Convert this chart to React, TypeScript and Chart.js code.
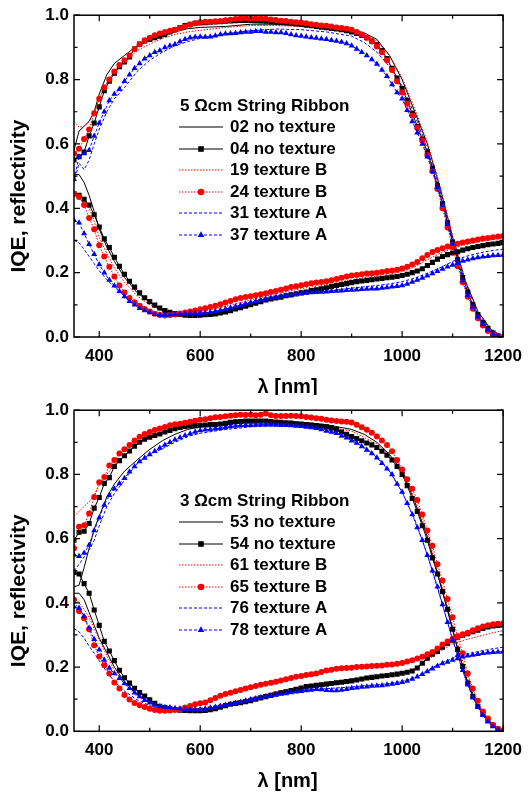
import React, { useEffect, useRef } from 'react';
import { Chart, registerables } from 'chart.js';
Chart.register(...registerables);

const FONT = '"Liberation Sans", Arial, Helvetica, sans-serif';

// wavelength grids (nm)
const WL_MARK = [
  350, 360, 370, 380, 390, 400, 410, 420, 430, 440,
  450, 460, 470, 480, 490, 500, 510, 520, 530, 540,
  550, 560, 570, 580, 590, 600, 610, 620, 630, 640,
  650, 660, 670, 680, 690, 700, 710, 720, 730, 740,
  750, 760, 770, 780, 790, 800, 810, 820, 830, 840,
  850, 860, 870, 880, 890, 900, 910, 920, 930, 940,
  950, 960, 970, 980, 990, 1000, 1010, 1020, 1030, 1040,
  1050, 1060, 1070, 1080, 1090, 1100, 1110, 1120, 1130, 1140,
  1150, 1160, 1170, 1180, 1190, 1200,
];
const WL_LINE = [
  350, 360, 370, 380, 390, 400, 415, 430, 450, 475,
  500, 525, 550, 575, 600, 650, 700, 750, 800, 850,
  900, 925, 950, 975, 1000, 1025, 1050, 1075, 1100, 1125,
  1150, 1175, 1200,
];

// ---------- top panel: 5 Ωcm ----------
const T02_IQE = [.58, .64, .655, .67, .70, .755, .815, .85, .875, .905, .92, .935, .948, .958, .962, .965, .972, .972, .968, .962, .955, .945, .925, .875, .80, .70, .60, .465, .31, .175, .08, .025, 0];
const T04_IQE = [
  .55, .56, .575, .625, .665, .715, .765, .795, .82, .84,
  .855, .87, .895, .91, .92, .925, .93, .935, .94, .948,
  .955, .962, .968, .972, .975, .976, .977, .978, .979, .98,
  .981, .982, .983, .984, .984, .984, .983, .982, .981, .98,
  .978, .977, .976, .975, .973, .971, .969, .967, .965, .963,
  .961, .959, .957, .955, .952, .948, .943, .937, .93, .92,
  .908, .89, .865, .835, .805, .772, .735, .695, .655, .615,
  .575, .525, .47, .415, .355, .295, .24, .185, .14, .10,
  .07, .045, .027, .012, .004, 0,
];
const T19_IQE = [.67, .652, .655, .67, .70, .74, .79, .825, .855, .89, .91, .928, .94, .948, .953, .962, .968, .968, .965, .96, .952, .94, .92, .875, .805, .71, .605, .47, .315, .175, .08, .025, 0];
const T24_IQE = [
  .57, .585, .615, .645, .695, .74, .775, .80, .825, .845,
  .86, .875, .895, .91, .922, .93, .938, .943, .948, .952,
  .955, .96, .965, .97, .975, .978, .98, .98, .981, .982,
  .984, .986, .988, .99, .991, .99, .99, .99, .989, .987,
  .985, .983, .982, .98, .978, .977, .975, .972, .97, .968,
  .967, .965, .962, .96, .958, .955, .948, .94, .93, .918,
  .903, .885, .86, .83, .795, .76, .725, .688, .65, .61,
  .565, .515, .46, .40, .34, .28, .22, .17, .125, .088,
  .058, .036, .019, .008, .002, 0,
];
const T31_IQE = [.48, .54, .52, .55, .60, .645, .70, .74, .775, .825, .86, .885, .905, .918, .928, .942, .952, .957, .955, .948, .935, .915, .885, .84, .78, .69, .585, .455, .305, .17, .075, .022, 0];
const T37_IQE = [
  .49, .56, .57, .58, .625, .665, .70, .735, .755, .77,
  .795, .815, .835, .85, .865, .875, .885, .89, .90, .905,
  .91, .918, .925, .93, .932, .933, .932, .933, .936, .94,
  .942, .943, .944, .946, .948, .948, .95, .95, .948, .948,
  .946, .946, .944, .94, .937, .935, .933, .931, .929, .927,
  .925, .922, .92, .917, .912, .905, .895, .885, .875, .862,
  .848, .83, .81, .785, .76, .74, .705, .67, .635, .60,
  .56, .515, .465, .41, .35, .29, .23, .175, .13, .093,
  .063, .04, .022, .009, .003, 0,
];
const T02_R = [.505, .505, .48, .44, .39, .335, .28, .235, .185, .138, .108, .082, .072, .068, .068, .076, .098, .12, .137, .152, .168, .175, .18, .185, .19, .202, .222, .245, .26, .27, .278, .285, .29];
const T04_R = [
  .445, .44, .428, .41, .38, .342, .305, .278, .248, .22,
  .195, .173, .155, .137, .122, .11, .099, .09, .082, .077,
  .073, .07, .068, .067, .067, .068, .069, .07, .072, .075,
  .078, .082, .087, .091, .096, .10, .105, .11, .115, .118,
  .121, .124, .128, .131, .134, .137, .14, .144, .147, .15,
  .153, .157, .16, .163, .166, .169, .172, .174, .176, .178,
  .18, .182, .184, .186, .188, .191, .195, .20, .205, .212,
  .222, .232, .242, .25, .256, .261, .265, .27, .274, .278,
  .281, .284, .287, .289, .291, .293,
];
const T19_R = [.445, .445, .43, .40, .36, .31, .26, .215, .17, .128, .10, .08, .073, .074, .078, .095, .115, .135, .15, .163, .178, .185, .19, .196, .203, .218, .24, .26, .275, .287, .295, .302, .307];
const T24_R = [
  .445, .435, .41, .37, .335, .285, .25, .218, .188, .16,
  .138, .121, .108, .097, .087, .079, .072, .068, .067, .068,
  .07, .073, .076, .079, .082, .086, .089, .093, .097, .102,
  .107, .112, .117, .121, .124, .127, .13, .133, .136, .14,
  .143, .147, .151, .155, .158, .161, .164, .167, .169, .171,
  .173, .176, .18, .184, .188, .191, .193, .195, .197, .198,
  .20, .202, .205, .207, .209, .213, .218, .225, .233, .245,
  .255, .264, .27, .276, .281, .286, .29, .294, .297, .30,
  .303, .306, .308, .31, .312, .314,
];
const T31_R = [.30, .293, .272, .25, .228, .206, .178, .155, .128, .103, .084, .07, .067, .068, .07, .082, .102, .12, .133, .142, .152, .156, .16, .165, .172, .183, .198, .215, .235, .25, .26, .268, .273];
const T37_R = [
  .363, .355, .322, .288, .257, .225, .20, .177, .159, .142,
  .126, .111, .10, .089, .082, .076, .071, .068, .068, .069,
  .07, .071, .072, .073, .073, .074, .075, .077, .08, .083,
  .087, .091, .095, .099, .103, .107, .111, .115, .118, .121,
  .124, .127, .129, .131, .133, .135, .137, .138, .139, .14,
  .141, .142, .143, .144, .145, .146, .147, .148, .149, .15,
  .15, .152, .154, .156, .158, .16, .165, .171, .177, .183,
  .19, .197, .204, .211, .218, .224, .23, .236, .24, .244,
  .247, .249, .251, .253, .254, .255,
];

// ---------- bottom panel: 3 Ωcm ----------
const B53_IQE = [.45, .455, .51, .57, .63, .67, .73, .77, .81, .845, .878, .905, .925, .94, .948, .958, .97, .966, .962, .955, .94, .925, .90, .862, .81, .715, .605, .465, .315, .175, .078, .025, 0];
const B54_IQE = [
  .595, .62, .623, .647, .695, .728, .772, .79, .825, .843,
  .858, .873, .888, .90, .91, .916, .921, .926, .932, .937,
  .942, .946, .949, .951, .952, .953, .954, .955, .955, .957,
  .959, .962, .964, .965, .966, .966, .966, .966, .966, .965,
  .963, .962, .961, .96, .958, .957, .955, .954, .952, .95,
  .948, .945, .94, .932, .925, .918, .912, .905, .898, .892,
  .884, .872, .86, .845, .825, .80, .765, .725, .685, .64,
  .595, .54, .49, .435, .38, .318, .255, .202, .15, .108,
  .077, .054, .034, .019, .006, .001,
];
const B61_IQE = [.67, .685, .70, .715, .735, .765, .80, .83, .858, .895, .918, .93, .94, .948, .952, .957, .962, .962, .958, .95, .935, .915, .895, .86, .81, .725, .615, .475, .33, .19, .085, .028, 0];
const B65_IQE = [
  .57, .637, .642, .678, .73, .776, .792, .828, .845, .865,
  .878, .892, .906, .917, .926, .932, .938, .943, .948, .953,
  .956, .958, .961, .964, .967, .97, .972, .975, .978, .979,
  .981, .983, .984, .986, .985, .986, .984, .986, .99, .984,
  .982, .982, .982, .983, .982, .981, .979, .977, .975, .973,
  .97, .968, .966, .965, .964, .962, .955, .947, .939, .93,
  .918, .906, .892, .872, .845, .815, .785, .755, .72, .675,
  .625, .578, .52, .47, .412, .355, .295, .243, .18, .133,
  .095, .062, .04, .02, .008, .002,
];
const B76_IQE = [.50, .52, .543, .565, .595, .64, .70, .74, .782, .835, .862, .88, .90, .918, .928, .94, .948, .952, .95, .94, .91, .885, .855, .81, .745, .66, .55, .42, .285, .165, .075, .022, 0];
const B78_IQE = [
  .55, .545, .555, .58, .625, .665, .705, .735, .755, .772,
  .788, .808, .825, .84, .851, .862, .872, .882, .892, .90,
  .908, .915, .921, .927, .932, .937, .939, .94, .942, .944,
  .946, .949, .951, .952, .953, .953, .954, .955, .955, .955,
  .954, .953, .953, .952, .951, .95, .948, .946, .944, .94,
  .935, .932, .928, .92, .914, .905, .898, .887, .876, .865,
  .852, .835, .818, .80, .77, .745, .71, .675, .635, .595,
  .548, .50, .45, .395, .34, .285, .237, .19, .145, .105,
  .075, .05, .03, .015, .005, 0,
];
const B53_R = [.43, .43, .41, .37, .33, .29, .245, .20, .155, .115, .09, .074, .068, .065, .064, .078, .095, .115, .133, .147, .157, .163, .169, .175, .18, .192, .228, .255, .283, .302, .315, .325, .33];
const B54_R = [
  .495, .49, .46, .43, .378, .33, .28, .25, .22, .19,
  .167, .15, .134, .121, .11, .098, .087, .078, .074, .071,
  .068, .066, .065, .064, .064, .064, .065, .067, .07, .075,
  .08, .084, .087, .089, .092, .095, .10, .104, .108, .112,
  .116, .12, .123, .127, .131, .135, .139, .141, .143, .145,
  .147, .149, .151, .153, .155, .157, .16, .163, .166, .168,
  .17, .172, .174, .176, .178, .181, .184, .188, .197, .212,
  .228, .24, .249, .262, .274, .284, .293, .299, .304, .31,
  .315, .32, .325, .328, .33, .331,
];
const B61_R = [.42, .40, .38, .355, .32, .285, .235, .19, .148, .108, .088, .075, .07, .07, .072, .085, .104, .123, .14, .153, .163, .168, .172, .177, .183, .196, .222, .248, .272, .285, .295, .305, .314];
const B65_R = [
  .41, .375, .352, .318, .268, .233, .206, .18, .152, .133,
  .113, .099, .088, .081, .076, .07, .066, .064, .064, .065,
  .066, .069, .074, .079, .084, .087, .09, .097, .104, .111,
  .116, .12, .125, .129, .133, .137, .141, .145, .148, .151,
  .154, .158, .162, .166, .17, .172, .175, .178, .18, .185,
  .189, .192, .195, .196, .197, .198, .20, .201, .202, .203,
  .204, .205, .207, .208, .21, .213, .217, .221, .227, .232,
  .24, .247, .258, .27, .28, .288, .296, .302, .307, .315,
  .321, .326, .33, .333, .335, .336,
];
const B76_R = [.32, .31, .29, .265, .243, .22, .185, .155, .125, .098, .08, .069, .066, .066, .067, .08, .10, .115, .127, .133, .138, .142, .145, .149, .155, .168, .19, .21, .228, .24, .248, .256, .262];
const B78_R = [
  .388, .384, .358, .322, .287, .254, .222, .197, .18, .165,
  .149, .134, .12, .108, .097, .089, .082, .077, .075, .074,
  .072, .07, .069, .068, .068, .068, .07, .073, .076, .079,
  .082, .084, .087, .091, .095, .099, .102, .105, .108, .111,
  .113, .116, .118, .121, .123, .125, .127, .129, .131, .13,
  .128, .127, .127, .129, .131, .134, .136, .138, .139, .141,
  .142, .143, .145, .147, .15, .153, .157, .163, .17, .178,
  .186, .195, .203, .211, .216, .222, .227, .232, .235, .238,
  .24, .243, .245, .246, .247, .248,
];

const TOP_LABELS = ['02 no texture', '04 no texture', '19 texture B', '24 texture B', '31 texture A', '37 texture A'];
const BOTTOM_LABELS = ['53 no texture', '54 no texture', '61 texture B', '65 texture B', '76 texture A', '78 texture A'];
const TOP_TITLE = '5 Ωcm String Ribbon';
const BOTTOM_TITLE = '3 Ωcm String Ribbon';

const X_TITLE = 'λ [nm]';
const Y_TITLE = 'IQE, reflectivity';
const X_TICK_LABELS = [400, 600, 800, 1000, 1200];
const X_TICK_MARKS = [400, 500, 600, 700, 800, 900, 1000, 1100, 1200];
const Y_TICK_LABELS = [0, 0.2, 0.4, 0.6, 0.8, 1.0];
const Y_TICK_MARKS = [0, 0.1, 0.2, 0.3, 0.4, 0.5, 0.6, 0.7, 0.8, 0.9, 1.0];

type Marker = false | 'rect' | 'circle' | 'triangle';
interface Style { color: string; dash: number[]; marker: Marker; radius: number; order: number }
const STYLES: Style[] = [
  { color: '#000000', dash: [], marker: false, radius: 0, order: 5 },
  { color: '#000000', dash: [], marker: 'rect', radius: 3.6, order: 2 },
  { color: '#ff0000', dash: [1.5, 1.5], marker: false, radius: 0, order: 4 },
  { color: '#ff0000', dash: [1.5, 1.5], marker: 'circle', radius: 3.0, order: 1 },
  { color: '#0000ff', dash: [3, 2], marker: false, radius: 0, order: 3 },
  { color: '#0000ff', dash: [3, 2], marker: 'triangle', radius: 3.5, order: 0 },
];

interface PanelDef { title: string; labels: string[]; iqe: number[][]; refl: number[][] }

const TOP: PanelDef = {
  title: TOP_TITLE, labels: TOP_LABELS,
  iqe: [T02_IQE, T04_IQE, T19_IQE, T24_IQE, T31_IQE, T37_IQE],
  refl: [T02_R, T04_R, T19_R, T24_R, T31_R, T37_R],
};
const BOTTOM: PanelDef = {
  title: BOTTOM_TITLE, labels: BOTTOM_LABELS,
  iqe: [B53_IQE, B54_IQE, B61_IQE, B65_IQE, B76_IQE, B78_IQE],
  refl: [B53_R, B54_R, B61_R, B65_R, B76_R, B78_R],
};

function pairs(xs: number[], ys: number[]) {
  return ys.map((y, i) => ({ x: xs[i], y }));
}

function drawMarker(ctx: CanvasRenderingContext2D, m: Marker, x: number, y: number, r: number) {
  if (!m) return;
  ctx.beginPath();
  if (m === 'rect') {
    const s = r / Math.SQRT2;
    ctx.rect(x - s, y - s, 2 * s, 2 * s);
  } else if (m === 'circle') {
    ctx.arc(x, y, r, 0, Math.PI * 2);
  } else {
    ctx.moveTo(x, y - r);
    ctx.lineTo(x + r * Math.sqrt(3) / 2, y + r / 2);
    ctx.lineTo(x - r * Math.sqrt(3) / 2, y + r / 2);
    ctx.closePath();
  }
  ctx.fill();
}

function Panel({ def, height, xAxisHeight }: { def: PanelDef; height: number; xAxisHeight: number }) {
  const ref = useRef<HTMLCanvasElement>(null);
  useEffect(() => {
    const datasets: any[] = [];
    STYLES.forEach((st, i) => {
      const xs = st.marker ? WL_MARK : WL_LINE;
      [def.iqe[i], def.refl[i]].forEach((arr, k) => {
        datasets.push({
          label: def.labels[i] + (k === 0 ? ' IQE' : ' R'),
          data: pairs(xs, arr),
          borderColor: st.color,
          backgroundColor: st.color,
          borderWidth: 1,
          borderDash: st.dash,
          pointRadius: st.radius,
          pointHoverRadius: st.radius,
          pointStyle: st.marker || 'circle',
          pointBackgroundColor: st.color,
          pointBorderWidth: 0,
          tension: 0,
          fill: false,
          order: st.order,
        });
      });
    });

    const decor = {
      id: 'decor',
      afterDatasetsDraw(chart: any) {
        const ctx: CanvasRenderingContext2D = chart.ctx;
        const { left, right, top, bottom } = chart.chartArea;
        const xs = chart.scales.x;
        const ys = chart.scales.y;
        ctx.save();
        // frame
        ctx.strokeStyle = '#000';
        ctx.lineWidth = 1.5;
        ctx.setLineDash([]);
        ctx.strokeRect(left, top, right - left, bottom - top);
        // inward ticks
        ctx.lineWidth = 1.2;
        X_TICK_MARKS.forEach((v) => {
          const px = xs.getPixelForValue(v);
          const len = v % 200 === 0 ? 6 : 3.5;
          ctx.beginPath();
          ctx.moveTo(px, bottom); ctx.lineTo(px, bottom - len);
          ctx.moveTo(px, top); ctx.lineTo(px, top + len);
          ctx.stroke();
        });
        Y_TICK_MARKS.forEach((v, idx) => {
          const py = ys.getPixelForValue(v);
          const len = idx % 2 === 0 ? 6 : 3.5;
          ctx.beginPath();
          ctx.moveTo(left, py); ctx.lineTo(left + len, py);
          ctx.moveTo(right, py); ctx.lineTo(right - len, py);
          ctx.stroke();
        });
        // legend
        ctx.font = `bold 17px ${FONT}`;
        ctx.textBaseline = 'middle';
        ctx.textAlign = 'left';
        ctx.fillStyle = '#000';
        ctx.fillText(def.title, left + 106, top + 91);
        def.labels.forEach((lab, i) => {
          const st = STYLES[i];
          const y = Math.round(top + 112 + i * 21.5);
          ctx.save();
          ctx.strokeStyle = st.color;
          ctx.lineWidth = 1;
          ctx.setLineDash(st.dash);
          ctx.beginPath();
          ctx.moveTo(left + 105, y);
          ctx.lineTo(left + 149, y);
          ctx.stroke();
          ctx.restore();
          ctx.fillStyle = st.color;
          drawMarker(ctx, st.marker, left + 127, y, st.radius * 1.1);
          ctx.fillStyle = '#000';
          ctx.fillText(lab, left + 156, y);
        });
        // axis titles
        ctx.font = `bold 20px ${FONT}`;
        ctx.textAlign = 'center';
        ctx.fillText(X_TITLE, (left + right) / 2 - 1, bottom + 50);
        ctx.font = `bold 21px ${FONT}`;
        ctx.save();
        ctx.translate(19, (top + bottom) / 2 + 20);
        ctx.rotate(-Math.PI / 2);
        ctx.fillText(Y_TITLE, 0, 0);
        ctx.restore();
        ctx.restore();
      },
    };

    const chart = new Chart(ref.current as HTMLCanvasElement, {
      type: 'line',
      data: { datasets },
      options: {
        animation: false,
        responsive: false,
        devicePixelRatio: 1,
        events: [],
        layout: { padding: { top: 15, right: 20, left: 0, bottom: 0 } },
        plugins: { legend: { display: false }, tooltip: { enabled: false } },
        scales: {
          x: {
            type: 'linear', min: 350, max: 1200,
            afterBuildTicks: (s: any) => { s.ticks = X_TICK_LABELS.map((v) => ({ value: v })); },
            afterFit: (s: any) => { s.height = xAxisHeight; },
            grid: { display: false, drawTicks: false },
            border: { display: false },
            ticks: {
              color: '#000', padding: 9, maxRotation: 0, autoSkip: false,
              font: { family: FONT, size: 17, weight: 'bold' },
              callback: (v: any) => String(v),
            },
          },
          y: {
            type: 'linear', min: 0, max: 1,
            afterBuildTicks: (s: any) => { s.ticks = Y_TICK_LABELS.map((v) => ({ value: v })); },
            afterFit: (s: any) => { s.width = 74; },
            grid: { display: false, drawTicks: false },
            border: { display: false },
            ticks: {
              color: '#000', padding: 5, autoSkip: false,
              font: { family: FONT, size: 17, weight: 'bold' },
              callback: (v: any) => Number(v).toFixed(1),
            },
          },
        },
      } as any,
      plugins: [decor],
    });
    return () => chart.destroy();
  }, [def, height, xAxisHeight]);
  return <canvas ref={ref} width={531} height={height} style={{ display: 'block', width: 531, height }} />;
}

export default function App() {
  return (
    <div style={{ position: 'absolute', left: 0, top: 0, width: 531, height: 796, background: '#fff' }}>
      <Panel def={TOP} height={395} xAxisHeight={58} />
      <Panel def={BOTTOM} height={401} xAxisHeight={64.7} />
    </div>
  );
}
